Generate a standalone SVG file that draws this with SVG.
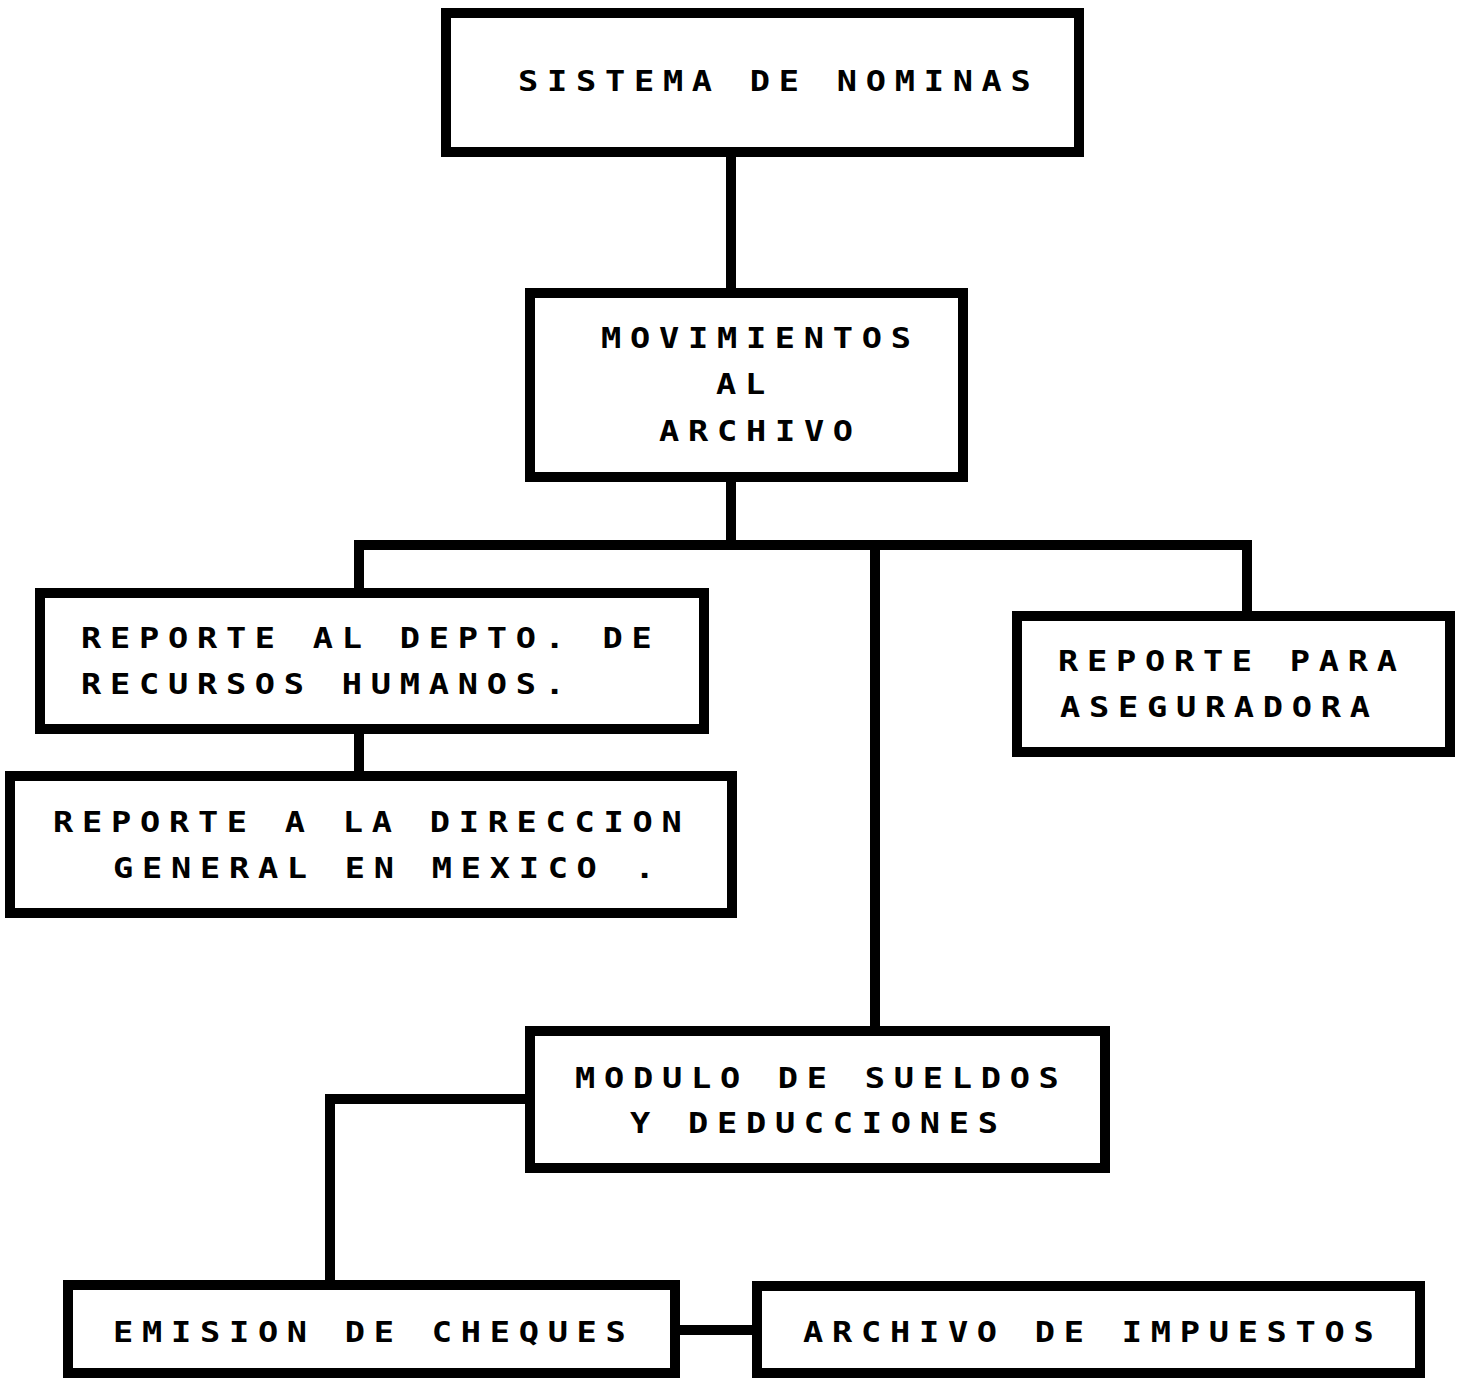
<svg xmlns="http://www.w3.org/2000/svg" width="1463" height="1378" viewBox="0 0 1463 1378">
<style>
.box{fill:#fff;stroke:#000;stroke-width:10}
.lbl{font-family:"DejaVu Sans Mono","Liberation Mono",monospace;font-size:28px;font-weight:bold;letter-spacing:7.3px;fill:#000}
.con{fill:none;stroke:#000;stroke-width:10}
</style>
<rect width="1463" height="1378" fill="#fff"/>
<g id="connectors">
<path class="con" d="M731 157V288"/>
<path class="con" d="M731 482V545"/>
<path class="con" d="M359 589V545H1247V611"/>
<path class="con" d="M875 545V1026"/>
<path class="con" d="M359 734V771"/>
<path class="con" d="M525 1099H330V1280"/>
<path class="con" d="M680 1330H752"/>
</g>
<g id="n1"><rect class="box" x="446" y="13" width="633" height="139"/>
<text class="lbl" transform="translate(518 91) scale(1.2 1)">SISTEMA DE NOMINAS</text></g>
<g id="n2"><rect class="box" x="530" y="293" width="433" height="184"/>
<text class="lbl" transform="translate(601 348) scale(1.2 1)">MOVIMIENTOS</text>
<text class="lbl" transform="translate(716 394) scale(1.2 1)">AL</text>
<text class="lbl" transform="translate(659 441) scale(1.2 1)">ARCHIVO</text></g>
<g id="n3"><rect class="box" x="40" y="593" width="664" height="136"/>
<text class="lbl" transform="translate(81 648) scale(1.2 1)">REPORTE AL DEPTO. DE</text>
<text class="lbl" transform="translate(81 694) scale(1.2 1)">RECURSOS HUMANOS.</text></g>
<g id="n4"><rect class="box" x="10" y="776" width="722" height="137"/>
<text class="lbl" transform="translate(53 832) scale(1.2 1)">REPORTE A LA DIRECCION</text>
<text class="lbl" transform="translate(113 878) scale(1.2 1)">GENERAL EN MEXICO .</text></g>
<g id="n5"><rect class="box" x="1017" y="616" width="433" height="136"/>
<text class="lbl" transform="translate(1058 671) scale(1.2 1)">REPORTE PARA</text>
<text class="lbl" transform="translate(1060 717) scale(1.2 1)">ASEGURADORA</text></g>
<g id="n6"><rect class="box" x="530" y="1031" width="575" height="137"/>
<text class="lbl" transform="translate(575 1088) scale(1.2 1)">MODULO DE SUELDOS</text>
<text class="lbl" transform="translate(630 1133) scale(1.2 1)">Y DEDUCCIONES</text></g>
<g id="n7"><rect class="box" x="68" y="1285" width="607" height="88"/>
<text class="lbl" transform="translate(113 1342) scale(1.2 1)">EMISION DE CHEQUES</text></g>
<g id="n8"><rect class="box" x="757" y="1286" width="663" height="87"/>
<text class="lbl" transform="translate(803 1342) scale(1.2 1)">ARCHIVO DE IMPUESTOS</text></g>
</svg>
